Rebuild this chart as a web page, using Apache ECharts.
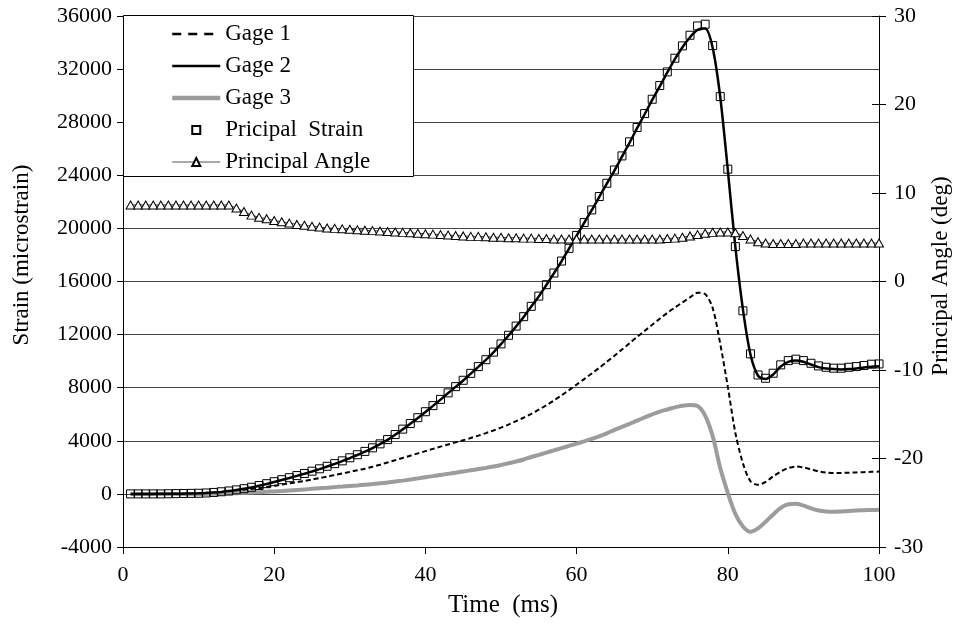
<!DOCTYPE html>
<html><head><meta charset="utf-8">
<script src="https://cdn.jsdelivr.net/npm/echarts@6/dist/echarts.min.js"></script>
<style>html,body{margin:0;padding:0;background:#fff}#c{width:961px;height:626px}</style>
</head><body><div id="c"></div>
<script>
const time = [1,2,3,4,5,6,7,8,9,10,11,12,13,14,15,16,17,18,19,20,21,22,23,24,25,26,27,28,29,30,31,32,33,34,35,36,37,38,39,40,41,42,43,44,45,46,47,48,49,50,51,52,53,54,55,56,57,58,59,60,61,62,63,64,65,66,67,68,69,70,71,72,73,74,75,76,77,78,79,80,81,82,83,84,85,86,87,88,89,90,91,92,93,94,95,96,97,98,99,100];
const gage1 = [0,0,0,0,0,10,20,30,40,60,
  80,110,150,200,250,310,370,440,530,620,
  700,790,880,980,1080,1190,1300,1420,1540,1660,
  1780,1900,2040,2200,2370,2540,2710,2880,3050,3220,
  3390,3560,3720,3880,4040,4210,4390,4580,4780,4990,
  5220,5480,5740,6030,6340,6680,7040,7420,7820,8230,
  8650,9070,9500,9950,10400,10870,11350,11820,12280,12740,
  13200,13640,14040,14420,14800,15150,15050,14000,11300,8080,
  4600,2310,950,680,900,1320,1680,1950,2060,2000,
  1850,1700,1610,1580,1580,1600,1620,1640,1660,1680];
const gage2 = [0,0,0,0,5,10,15,20,30,40,
  60,100,150,210,290,380,490,610,750,900,
  1050,1200,1360,1520,1690,1870,2060,2260,2470,2700,
  2930,3180,3450,3750,4070,4450,4860,5280,5720,6170,
  6630,7100,7590,8060,8540,9060,9570,10090,10660,11280,
  11930,12620,13330,14110,14880,15740,16620,17520,18480,19450,
  20420,21370,22380,23370,24350,25400,26450,27550,28600,29680,
  30700,31750,32750,33650,34400,34950,35050,33600,29900,24400,
  18600,13900,10500,8900,8650,9000,9600,9950,10050,9950,
  9750,9550,9450,9400,9380,9400,9450,9520,9580,9620];
const gage3 = [0,0,0,0,0,0,0,0,0,0,
  0,10,20,35,55,80,105,130,160,190,
  220,260,300,340,380,420,460,510,555,600,
  640,690,740,800,860,930,1000,1080,1170,1260,
  1340,1430,1510,1600,1690,1780,1870,1960,2060,2180,
  2310,2440,2590,2780,2940,3110,3280,3450,3620,3790,
  3960,4140,4340,4560,4820,5050,5280,5520,5760,5990,
  6200,6360,6520,6640,6700,6620,5900,4350,1950,80,
  -1500,-2450,-2850,-2600,-2100,-1550,-1050,-780,-750,-880,
  -1080,-1250,-1330,-1350,-1320,-1280,-1250,-1230,-1210,-1200];
const principalStrain = [0,0,0,0,0,10,20,30,40,50,
  70,110,160,220,300,390,500,630,770,920,
  1070,1220,1380,1540,1710,1890,2080,2280,2490,2720,
  2950,3200,3470,3770,4090,4470,4880,5300,5740,6190,
  6650,7120,7610,8080,8560,9080,9590,10110,10680,11300,
  11950,12640,13350,14130,14900,15760,16640,17540,18500,19470,
  20440,21390,22400,23400,24400,25460,26520,27600,28650,29730,
  30760,31790,32820,33750,34550,35250,35380,33770,29930,24460,
  18630,13790,10550,8960,8710,9090,9720,10040,10150,10040,
  9840,9640,9540,9470,9470,9540,9590,9670,9770,9790];
const principalAngle = [8.65,8.65,8.65,8.65,8.65,8.65,8.65,8.65,8.65,8.65,
  8.65,8.65,8.65,8.65,8.3,7.9,7.5,7.25,7.1,6.9,
  6.75,6.6,6.45,6.35,6.25,6.15,6.05,6.0,5.95,5.9,
  5.85,5.8,5.75,5.7,5.65,5.6,5.55,5.5,5.45,5.4,
  5.35,5.3,5.25,5.2,5.15,5.1,5.1,5.05,5.0,5.0,
  4.95,4.95,4.9,4.9,4.85,4.85,4.8,4.8,4.8,4.8,
  4.8,4.8,4.8,4.8,4.8,4.8,4.8,4.8,4.8,4.8,
  4.8,4.85,4.9,5.0,5.15,5.3,5.45,5.55,5.6,5.6,
  5.5,5.2,4.8,4.5,4.35,4.3,4.3,4.3,4.3,4.35,
  4.35,4.35,4.35,4.35,4.35,4.35,4.35,4.35,4.35,4.35];
const strainTicks = {min: -4000, max: 36000, interval: 4000};
const angleTicks = {min: -30, max: 30, interval: 10};
const timeTicks = {min: 0, max: 100, interval: 20};

const FONT = 'Liberation Serif';
const pairs = arr => time.map((t, i) => [t, arr[i]]);
const chart = echarts.init(document.getElementById('c'), null, {renderer: 'canvas'});
const labelStyle = {fontFamily: FONT, fontSize: 22, color: '#000'};
const noSym = {opacity: 0};
chart.setOption({
  animation: false,
  backgroundColor: '#fff',
  grid: {left: 123, right: 82, top: 16, bottom: 79},
  xAxis: {
    type: 'value', min: timeTicks.min, max: timeTicks.max, interval: timeTicks.interval,
    name: 'Time  (ms)', nameLocation: 'middle', nameGap: 46,
    nameTextStyle: {fontFamily: FONT, fontSize: 25, color: '#000', padding: [0, 0, 0, 4]},
    axisLine: {onZero: false, lineStyle: {color: '#000', width: 1}},
    axisTick: {length: 7, lineStyle: {color: '#000'}},
    axisLabel: Object.assign({margin: 17}, labelStyle),
    splitLine: {show: false}
  },
  yAxis: [
    {
      type: 'value', min: strainTicks.min, max: strainTicks.max, interval: strainTicks.interval, position: 'left',
      axisLine: {show: true, lineStyle: {color: '#000', width: 1}},
      axisTick: {length: 6, lineStyle: {color: '#000'}},
      axisLabel: Object.assign({margin: 11, formatter: v => String(v)}, labelStyle),
      splitLine: {show: true, lineStyle: {color: '#444', width: 1}}
    },
    {
      type: 'value', min: angleTicks.min, max: angleTicks.max, interval: angleTicks.interval, position: 'right',
      axisLine: {show: true, lineStyle: {color: '#000', width: 1}},
      axisTick: {length: 7, lineStyle: {color: '#000'}},
      axisLabel: Object.assign({margin: 15, formatter: v => String(v)}, labelStyle),
      splitLine: {show: false}
    },
    {
      type: 'value', min: angleTicks.min, max: angleTicks.max, interval: angleTicks.interval, position: 'right',
      axisLine: {show: false},
      axisTick: {show: true, inside: true, length: 7, lineStyle: {color: '#000'}},
      axisLabel: {show: false},
      splitLine: {show: false}
    }
  ],
  graphic: {
    elements: [
      {
        type: 'rect', z: 3, zlevel: 0,
        shape: {x: 123.5, y: 15.5, width: 290, height: 161},
        style: {fill: '#fff', stroke: '#000', lineWidth: 1}
      },
      {
        type: 'text', x: 22, y: 255, rotation: Math.PI / 2, z: 3,
        style: {text: 'Strain (microstrain)', fontFamily: FONT, fontSize: 23, fill: '#000', align: 'center', verticalAlign: 'middle'}
      },
      {
        type: 'text', x: 941, y: 276, rotation: Math.PI / 2, z: 3,
        style: {text: 'Principal Angle (deg)', fontFamily: FONT, fontSize: 23, fill: '#000', align: 'center', verticalAlign: 'middle'}
      }
    ]
  },
  legend: {
    orient: 'vertical', left: 170, top: 22, padding: 0, itemGap: 8,
    itemWidth: 48, itemHeight: 10, z: 5,
    textStyle: {fontFamily: FONT, fontSize: 23, color: '#000', lineHeight: 24},
    data: [
      {name: 'Gage 1', itemStyle: noSym, lineStyle: {type: [9, 7], width: 2.5, color: '#000'}},
      {name: 'Gage 2', itemStyle: noSym, lineStyle: {width: 2.5, color: '#000'}},
      {name: 'Gage 3', itemStyle: noSym, lineStyle: {width: 4.5, color: '#9c9c9c'}},
      {name: 'Pricipal  Strain'},
      {name: 'Principal Angle', lineStyle: {width: 1.2, color: '#555'}}
    ]
  },
  series: [
    {
      name: 'Gage 1', type: 'line', yAxisIndex: 0, data: pairs(gage1), smooth: 0.3,
      symbol: 'none', lineStyle: {color: '#000', width: 2, type: [5, 3]}, itemStyle: {color: '#000'}
    },
    {
      name: 'Gage 3', type: 'line', yAxisIndex: 0, data: pairs(gage3), smooth: 0.3,
      symbol: 'none', lineStyle: {color: '#9c9c9c', width: 4}, itemStyle: {color: '#9c9c9c'}
    },
    {
      name: 'Gage 2', type: 'line', yAxisIndex: 0, data: pairs(gage2), smooth: 0.3,
      symbol: 'none', lineStyle: {color: '#000', width: 2.5}, itemStyle: {color: '#000'}
    },
    {
      name: 'Pricipal  Strain', type: 'line', yAxisIndex: 0, data: pairs(principalStrain),
      symbol: 'rect', symbolSize: 8, showAllSymbol: true,
      lineStyle: {opacity: 0, width: 0},
      itemStyle: {color: 'rgba(255,255,255,0)', borderColor: '#000', borderWidth: 1}
    },
    {
      name: 'Principal Angle', type: 'line', yAxisIndex: 1, data: pairs(principalAngle),
      symbol: 'triangle', symbolSize: [9, 8], showAllSymbol: true,
      lineStyle: {color: '#444', width: 1},
      itemStyle: {color: '#fff', borderColor: '#000', borderWidth: 1}
    }
  ]
});
</script></body></html>
